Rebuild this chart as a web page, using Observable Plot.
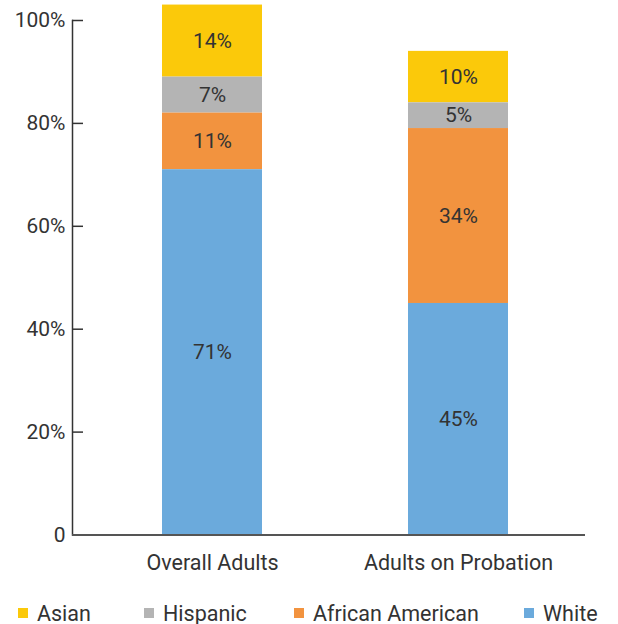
<!DOCTYPE html>
<html>
<head>
<meta charset="utf-8">
<script src="https://cdn.jsdelivr.net/npm/d3@7"></script>
<script src="https://cdn.jsdelivr.net/npm/@observablehq/plot@0.6"></script>
<style>
  body { margin: 0; background: #fff; font-family: Roboto, "Noto Sans", sans-serif; }
  #wrap { position: relative; width: 618px; height: 624px; }
  .legend { position: absolute; top: 602px; left: 0; width: 618px; height: 22px; font-size: 21.5px; color: #333; }
  .legend .item { position: absolute; top: 0; display: flex; align-items: center; height: 22px; white-space: nowrap; }
  .legend .sw { width: 10px; height: 10px; margin-right: 9px; }
</style>
</head>
<body>
<div id="wrap"></div>
<script>
// Population share by race/ethnicity
const groups = ["Overall Adults", "Adults on Probation"];
const races = ["Asian", "Hispanic", "African American", "White"];
const asian = [14, 10];
const hispanic = [7, 5];
const africanAmerican = [11, 34];
const white = [71, 45];
const yTicks = [0, 20, 40, 60, 80, 100];
const colors = ["#fbc90a", "#b4b4b4", "#f2933f", "#6baadc"];

const series = {"Asian": asian, "Hispanic": hispanic, "African American": africanAmerican, "White": white};
const rows = [];
groups.forEach((g, i) => races.forEach(r => rows.push({group: g, race: r, value: series[r][i]})));

const stackOrder = ["White", "African American", "Hispanic", "Asian"];

const chart = Plot.plot({
  width: 618,
  height: 590,
  marginLeft: 72,
  marginRight: 33,
  marginTop: 20,
  marginBottom: 55.5,
  style: {fontFamily: "Roboto, 'Noto Sans', sans-serif", fontSize: "21px", color: "#333", background: "#fff"},
  x: {domain: groups, range: [72, 598], paddingInner: 0.595, paddingOuter: 0.364, label: null},
  y: {domain: [0, 100], label: null},
  color: {domain: races, range: colors},
  marks: [
    Plot.barY(rows, {x: "group", y: "value", fill: "race", z: "race", order: stackOrder}),
    Plot.text(rows, Plot.stackY({x: "group", y: "value", z: "race", order: stackOrder,
      text: d => d.value + "%", fill: "#333", fontSize: 21})),
    Plot.frame({anchor: "left", stroke: "#333", strokeWidth: 1.5}),
    Plot.tickY(yTicks, {y: d => d, stroke: "#333", strokeWidth: 1.5, insetRight: 502}),
    Plot.ruleY([0], {stroke: "#555", strokeWidth: 2}),
    Plot.axisY({ticks: yTicks, tickSize: 0, tickPadding: 7, tickFormat: d => d === 0 ? "0" : d + "%", fontSize: 21}),
    Plot.axisX({tickSize: 0, tickPadding: 20, fontSize: 21.5})
  ]
});

const wrap = document.getElementById("wrap");
wrap.appendChild(chart);

// Legend row below the chart
const legend = document.createElement("div");
legend.className = "legend";
const legendX = [18, 144, 294, 524];
races.forEach((r, i) => {
  const item = document.createElement("div");
  item.className = "item";
  item.style.left = legendX[i] + "px";
  item.innerHTML = `<span class="sw" style="background:${colors[i]}"></span><span>${r}</span>`;
  legend.appendChild(item);
});
wrap.appendChild(legend);
</script>
</body>
</html>
